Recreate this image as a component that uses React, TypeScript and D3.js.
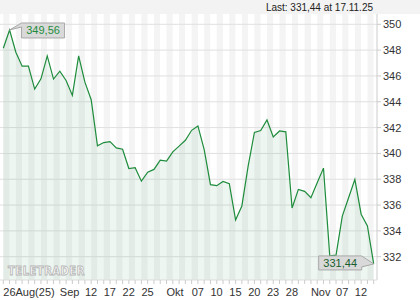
import React from "react";
import * as d3 from "d3";

const prices: number[] = [
  348.15, 349.56, 347.84, 346.76, 346.76, 344.98, 345.78, 347.55, 345.76, 346.37,
  345.65, 344.49, 347.55, 345.52, 344.16, 340.59, 340.84, 340.92, 340.43, 340.32,
  338.83, 338.89, 337.85, 338.55, 338.76, 339.48, 339.4, 340.12, 340.56, 341.02,
  341.79, 342.13, 340.3, 337.58, 337.5, 337.83, 337.65, 334.85, 335.93, 339.01,
  341.62, 341.77, 342.59, 341.28, 341.74, 341.67, 335.77, 337.21, 337.06, 336.57,
  337.73, 338.86, 332.07, 332.12, 335.15, 336.57, 337.99, 335.29, 334.38, 331.44,
];
const xLabels: { i: number; text: string }[] = [
  { i: 0, text: "26Aug(25)" },
  { i: 9, text: "Sep" },
  { i: 13, text: "12" },
  { i: 16, text: "17" },
  { i: 19, text: "22" },
  { i: 22, text: "25" },
  { i: 26, text: "Okt" },
  { i: 30, text: "07" },
  { i: 33, text: "10" },
  { i: 36, text: "15" },
  { i: 39, text: "20" },
  { i: 42, text: "23" },
  { i: 45, text: "28" },
  { i: 49, text: "Nov" },
  { i: 53, text: "07" },
  { i: 56, text: "12" },
];
const yTicks: number[] = [332, 334, 336, 338, 340, 342, 344, 346, 348, 350];
const headerText = "Last: 331,44 at 17.11.25";
const maxLabel = "349,56";
const lastLabel = "331,44";

export default function App() {
  const W = 420, H = 300;
  const plotL = 0, plotR = 377, plotT = 14, plotB = 280;
  const x = d3.scaleLinear().domain([0, prices.length - 1]).range([3.3, 373.7]);
  const y = d3.scaleLinear().domain([332, 350]).range([256.7, 24.3]);
  const line = d3.line<number>().x((_, i) => x(i)).y((d) => y(d));
  const area = d3.area<number>().x((_, i) => x(i)).y0(plotB).y1((d) => y(d));
  const step = x(1) - x(0);
  const font = "'Liberation Sans', Arial, sans-serif";
  const green = "#1e8c3c";

  const maxI = prices.indexOf(d3.max(prices) as number);
  const lastI = prices.length - 1;
  const mx = x(maxI), my = y(prices[maxI]);
  const lx = x(lastI), ly = y(prices[lastI]);

  return (
    <svg width={W} height={H} style={{ position: "absolute", left: 0, top: 0, background: "#fff" }}>
      <rect x={0} y={0} width={W} height={plotT} fill="#f3f3f3" />
      <text x={373} y={11} textAnchor="end" fontFamily={font} fontSize={10} fill="#222">{headerText}</text>
      <defs>
        <clipPath id="plotclip">
          <rect x={plotL} y={plotT} width={plotR - plotL} height={plotB - plotT} />
        </clipPath>
      </defs>
      <g clipPath="url(#plotclip)">
        {d3.range(-1, prices.length).map((i) => (
          <rect key={i} x={x(i)} y={plotT} width={step} height={plotB - plotT}
            fill={((i % 2) + 2) % 2 === 0 ? "#f4f4f4" : "#ffffff"} />
        ))}
        {yTicks.map((t) => (
          <line key={t} x1={plotL} x2={plotR} y1={y(t)} y2={y(t)} stroke="#e0e0e0" strokeWidth={1} />
        ))}
        <path d={area(prices) || ""} fill={green} fillOpacity={0.08} />
        <text x={8} y={275} fontFamily="'DejaVu Sans', sans-serif" fontWeight="bold" fontSize={10}
          fill="#ffffff" stroke="#b5b5b5" strokeWidth={0.8} letterSpacing={0.5}
          transform="translate(8,275) scale(1,1.15) translate(-8,-275)">TELETRADER</text>
        <path d={line(prices) || ""} fill="none" stroke={green} strokeWidth={1.2} />
      </g>
      <line x1={plotR} x2={plotR} y1={plotT} y2={plotB} stroke="#cccccc" />
      <line x1={plotL} x2={plotR} y1={plotB} y2={plotB} stroke="#dddddd" />
      {yTicks.map((t) => (
        <g key={t}>
          <line x1={plotR} x2={plotR + 4} y1={y(t)} y2={y(t)} stroke="#cccccc" />
          <text x={383} y={y(t) + 4} fontFamily={font} fontSize={11} fill="#333">{t}</text>
        </g>
      ))}
      {prices.map((_, i) => (
        <line key={i} x1={x(i)} x2={x(i)} y1={plotB} y2={plotB + 4} stroke="#cccccc" />
      ))}
      {xLabels.map((l) => (
        <text key={l.i + l.text} x={x(l.i)} y={296} fontFamily={font} fontSize={11} fill="#333">{l.text}</text>
      ))}
      <g>
        <path d={`M${mx},${my} L${mx + 12},${my - 7} L${mx + 55},${my - 7} L${mx + 55},${my + 8} L${mx + 12},${my + 8} L${mx + 12},${my - 3} Z`}
          fill="#d9d9d9" stroke="#a8a8a8" strokeWidth={1} />
        <text x={mx + 33.5} y={my + 4.5} textAnchor="middle" fontFamily={font} fontSize={11} fill={green}>{maxLabel}</text>
      </g>
      <g>
        <path d={`M${lx},${ly} L${lx - 12},${ly - 8} L${lx - 55},${ly - 8} L${lx - 55},${ly + 6} L${lx - 12},${ly + 6} L${lx - 12},${ly + 3} Z`}
          fill="#d9d9d9" stroke="#a8a8a8" strokeWidth={1} />
        <text x={lx - 33.5} y={ly + 3} textAnchor="middle" fontFamily={font} fontSize={11} fill="#1a5e2e">{lastLabel}</text>
      </g>
    </svg>
  );
}
